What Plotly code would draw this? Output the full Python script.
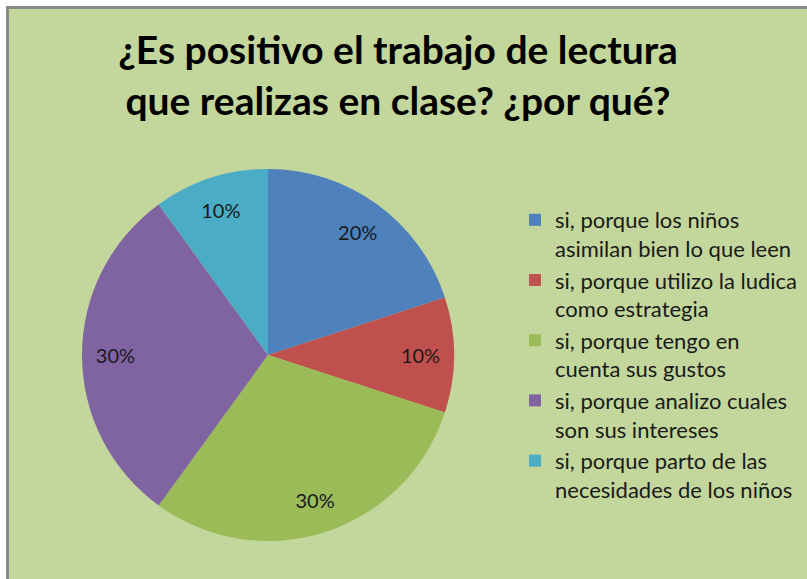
import plotly.graph_objects as go

W, H = 807, 579

labels = [
    "si, porque los niños<br>asimilan bien lo que leen",
    "si, porque utilizo la ludica<br>como estrategia",
    "si, porque tengo en<br>cuenta sus gustos",
    "si, porque analizo cuales<br>son sus intereses",
    "si, porque parto de las<br>necesidades de los niños",
]
values = [20, 10, 30, 30, 10]
colors = ["#4F81BD", "#C0504D", "#9BBB59", "#8064A2", "#4BACC6"]
title_text = "¿Es positivo el trabajo de lectura<br>que realizas en clase? ¿por qué?"

BG = "#C3D69B"
FONT = "Lato"

cx, cy, r = 268, 355, 186
dom = dict(
    x=[(cx - r) / W, (cx + r) / W],
    y=[1 - (cy + r) / H, 1 - (cy - r) / H],
)

fig = go.Figure()
fig.add_trace(
    go.Pie(
        labels=labels,
        values=values,
        sort=False,
        direction="clockwise",
        rotation=0,
        marker=dict(colors=colors, line=dict(width=0)),
        textinfo="none",
        domain=dom,
        hoverinfo="label+percent",
    )
)
# transparent ring that carries the percentage labels near the rim
fig.add_trace(
    go.Pie(
        labels=labels,
        values=values,
        sort=False,
        direction="clockwise",
        rotation=0,
        hole=0.64,
        marker=dict(colors=["rgba(0,0,0,0)"] * len(values), line=dict(width=0)),
        texttemplate="%{percent:.0%}",
        textposition="inside",
        insidetextorientation="horizontal",
        textfont=dict(family=FONT, size=20, color="#1a1a1a"),
        domain=dom,
        showlegend=False,
        hoverinfo="skip",
    )
)

shapes = [
    dict(type="rect", xref="paper", yref="paper", x0=0, x1=6 / W, y0=0, y1=1,
         fillcolor="white", line=dict(width=0), layer="above"),
    dict(type="rect", xref="paper", yref="paper", x0=0, x1=1, y0=1 - 6 / H, y1=1,
         fillcolor="white", line=dict(width=0), layer="above"),
    dict(type="rect", xref="paper", yref="paper", x0=6 / W, x1=9 / W, y0=0, y1=1 - 6 / H,
         fillcolor="#8a8a8a", line=dict(width=0), layer="above"),
    dict(type="rect", xref="paper", yref="paper", x0=6 / W, x1=1, y0=1 - 9 / H, y1=1 - 6 / H,
         fillcolor="#8a8a8a", line=dict(width=0), layer="above"),
]

fig.update_layout(
    width=W,
    height=H,
    margin=dict(l=0, r=0, t=0, b=0),
    paper_bgcolor=BG,
    plot_bgcolor=BG,
    shapes=shapes,
    title=dict(
        text="<b>" + title_text + "</b>",
        x=398 / W,
        xanchor="center",
        y=1 - 64 / H,
        yanchor="top",
        font=dict(family=FONT, size=39, color="#000000"),
    ),
    legend=dict(
        x=515 / W,
        xanchor="left",
        y=1 - 199 / H,
        yanchor="top",
        valign="top",
        font=dict(family=FONT, size=22, color="#1a1a1a"),
        bgcolor="rgba(0,0,0,0)",
        tracegroupgap=0,
    ),
    showlegend=True,
)

fig.write_html(
    "out.html",
    config={"displayModeBar": False},
    post_script="document.body.style.margin='0px';document.body.style.overflow='hidden';",
)
